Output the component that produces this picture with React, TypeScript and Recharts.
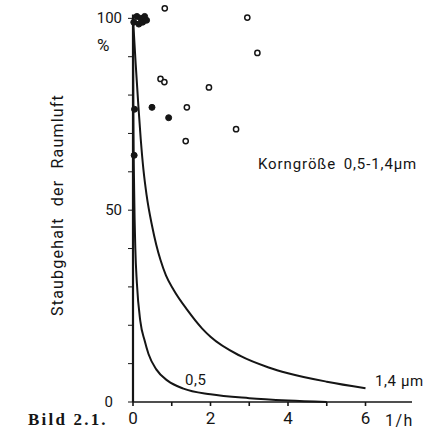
import React from 'react';
import { ComposedChart, Line, Scatter, XAxis, YAxis, ReferenceLine } from 'recharts';

// Abklingkurven (x in 1/h, y in %)
const curve14X = [0, 0.07, 0.14, 0.2, 0.27, 0.35, 0.49, 0.6, 0.71, 0.85, 1.05, 1.4, 1.78, 2, 2.77, 3.5, 4, 5, 6];
const curve14Y = [100, 88, 77, 68.5, 60.5, 54, 46, 41, 37, 33, 29.2, 24, 19.2, 17, 12, 9, 7.5, 5.3, 3.6];
const curve05X = [0, 0.01, 0.03, 0.06, 0.1, 0.19, 0.3, 0.4, 0.6, 0.9, 1.3, 2, 3, 4, 5];
const curve05Y = [100, 75, 55, 40, 31, 21, 16, 12.5, 8.5, 5.5, 3.5, 2, 1, 0.4, 0];

// Messpunkte
const openX = [0.82, 2.95, 3.21, 0.71, 0.81, 1.96, 1.39, 2.66, 1.36];
const openY = [102.6, 100.2, 91, 84.2, 83.4, 82, 76.8, 71.1, 68];
const filledX = [0.49, 0.92, 0.04, 0.03, 0.02, 0.1, 0.15, 0.2, 0.25, 0.3, 0.35];
const filledY = [76.8, 74.1, 76.3, 64.3, 99, 100.5, 98.5, 100, 99, 100.5, 99.5];

const xTicks = [0, 1, 2, 3, 4, 5, 6];
const xLabels = [0, 2, 4, 6];
const yTicks = [0, 10, 20, 30, 40, 50, 60, 70, 80, 90, 100];
const yLabels = [0, 50, 100];

const zip = (xs: number[], ys: number[]) => xs.map((x, i) => ({ x, y: ys[i] }));
const curve14 = zip(curve14X, curve14Y);
const curve05 = zip(curve05X, curve05Y);
const openPts = zip(openX, openY);
const filledPts = zip(filledX, filledY);

const FONT = 'Roboto, sans-serif';
const INK = '#151515';

const YTick = (props: any) => {
    const { x, y, payload } = props;
    if (!yLabels.includes(payload.value)) return null;
    const dx = payload.value === 0 ? -13 : -4;
    return (
        <text x={x + dx} y={y} dy={5} textAnchor="end" fontSize={15} fontFamily={FONT} fill={INK}>
            {payload.value}
        </text>
    );
};

const XTick = (props: any) => {
    const { x, y, payload } = props;
    if (!xLabels.includes(payload.value)) return null;
    return (
        <text x={x} y={y} dy={16} textAnchor="middle" fontSize={17} fontFamily={FONT} fill={INK}>
            {payload.value}
        </text>
    );
};

const OpenDot = (p: any) => <circle cx={p.cx} cy={p.cy} r={2.6} fill="#fff" stroke={INK} strokeWidth={1.5} />;
const FilledDot = (p: any) => <circle cx={p.cx} cy={p.cy} r={3} fill={INK} stroke={INK} strokeWidth={1} />;

const txt: React.CSSProperties = { position: 'absolute', fontFamily: FONT, color: INK, whiteSpace: 'nowrap', lineHeight: 1 };

export default function App() {
    return (
        <div style={{ position: 'absolute', left: 0, top: 0, width: 429, height: 432, background: '#fff' }}>
            <ComposedChart width={429} height={432} margin={{ top: 3, right: 17, bottom: 0, left: 0 }}>
                <XAxis
                    dataKey="x"
                    type="number"
                    domain={[0, 7.2]}
                    ticks={xTicks}
                    tick={XTick}
                    tickSize={4}
                    height={30}
                    stroke={INK}
                    strokeWidth={1.6}
                    interval={0}
                />
                <YAxis
                    type="number"
                    domain={[0, 104]}
                    ticks={yTicks}
                    tick={YTick}
                    tickSize={5}
                    width={133}
                    axisLine={false}
                    stroke={INK}
                    interval={0}
                />
                <ReferenceLine segment={[{ x: 0, y: 0 }, { x: 0, y: 101 }]} stroke={INK} strokeWidth={2.2} />
                <Line data={curve14} dataKey="y" type="monotone" stroke={INK} strokeWidth={2} dot={false} isAnimationActive={false} />
                <Line data={curve05} dataKey="y" type="monotone" stroke={INK} strokeWidth={2} dot={false} isAnimationActive={false} />
                <Scatter data={openPts} dataKey="y" shape={OpenDot} isAnimationActive={false} />
                <Scatter data={filledPts} dataKey="y" shape={FilledDot} isAnimationActive={false} />
            </ComposedChart>
            <div style={{ ...txt, left: 97, top: 37, fontSize: 17 }}>%</div>
            <div style={{ ...txt, left: 58, top: 205, fontSize: 16, letterSpacing: 1.2, wordSpacing: 6, transform: 'translate(-50%, -50%) rotate(-90deg)' }}>
                Staubgehalt der Raumluft
            </div>
            <div style={{ ...txt, left: 258, top: 157, fontSize: 15, letterSpacing: 0.9, wordSpacing: 3 }}>Korngröße 0,5-1,4µm</div>
            <div style={{ ...txt, left: 375, top: 374, fontSize: 15, letterSpacing: 0.6 }}>1,4 µm</div>
            <div style={{ ...txt, left: 185, top: 373, fontSize: 15, letterSpacing: 0.6 }}>0,5</div>
            <div style={{ ...txt, left: 385, top: 413, fontSize: 16, letterSpacing: 1.5 }}>1/h</div>
            <div style={{ ...txt, left: 28, top: 411, fontSize: 17, fontWeight: 'bold', fontFamily: '"Liberation Serif", serif', letterSpacing: 2.2 }}>
                Bild 2.1.
            </div>
        </div>
    );
}
